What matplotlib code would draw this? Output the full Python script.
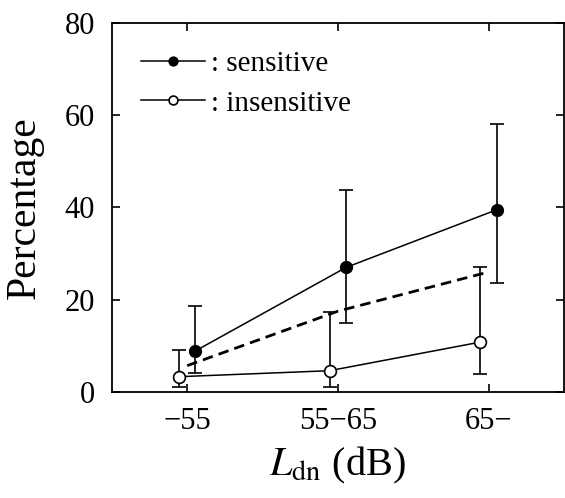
import numpy as np
import matplotlib
matplotlib.use('Agg')
import matplotlib.pyplot as plt

plt.rcParams['font.family'] = ['Liberation Serif', 'DejaVu Serif']
plt.rcParams['mathtext.fontset'] = 'stix'

categories = ['\u221255', '55\u221265', '65\u2212']

sens_mean = [8.9, 27.0, 39.5]
sens_low = [4.0, 14.9, 23.7]
sens_high = [18.7, 43.8, 58.0]

insens_mean = [3.3, 4.6, 10.8]
insens_low = [1.15, 1.15, 3.8]
insens_high = [9.1, 17.3, 27.0]

overall = [5.7, 17.5, 26.0]

x = np.arange(len(categories))
off = 0.055

fig = plt.figure(figsize=(5.65, 4.98), dpi=100)
ax = fig.add_axes([0.198, 0.213, 0.800, 0.741])

sens_err = [np.array(sens_mean) - np.array(sens_low),
            np.array(sens_high) - np.array(sens_mean)]
insens_err = [np.array(insens_mean) - np.array(insens_low),
              np.array(insens_high) - np.array(insens_mean)]

ax.errorbar(x + off, sens_mean, yerr=sens_err, fmt='none', ecolor='black',
            elinewidth=1.2, capsize=5, capthick=1.2, zorder=2)
ax.errorbar(x - off, insens_mean, yerr=insens_err, fmt='none', ecolor='black',
            elinewidth=1.2, capsize=5, capthick=1.2, zorder=2)

dash, = ax.plot(x, overall, color='black', lw=2.0, zorder=3)
dash.set_dashes((3.8, 2.2))

ax.plot(x + off, sens_mean, color='black', lw=1.1, marker='o', ms=8.5,
        mfc='black', mec='black', zorder=4, label=': sensitive')
ax.plot(x - off, insens_mean, color='black', lw=1.1, marker='o', ms=8.5,
        mfc='white', mec='black', mew=1.2, zorder=4, label=': insensitive')

ax.set_xlim(-0.5, 2.5)
ax.set_ylim(0, 80)
ax.set_xticks(x)
ax.set_xticklabels(categories)
ax.set_yticks([0, 20, 40, 60, 80])

ax.tick_params(direction='in', top=True, right=True, length=6, width=1.2,
               labelsize=22)
ax.tick_params(axis='y', pad=12)
ax.tick_params(axis='x', pad=11)
for s in ax.spines.values():
    s.set_linewidth(1.3)

ax.set_ylabel('Percentage', fontsize=30)
ax.yaxis.set_label_coords(-0.15, 0.5)
ax.set_xlabel(r'$L_{\mathrm{dn}}$ (dB)', fontsize=29, labelpad=6)

leg = ax.legend(loc='upper left', bbox_to_anchor=(0.02, 0.98), frameon=False,
                fontsize=21, handlelength=2.2, handletextpad=0.2,
                labelspacing=0.45, borderaxespad=0.3, markerscale=0.75)

fig.savefig('out.png', dpi=100)
